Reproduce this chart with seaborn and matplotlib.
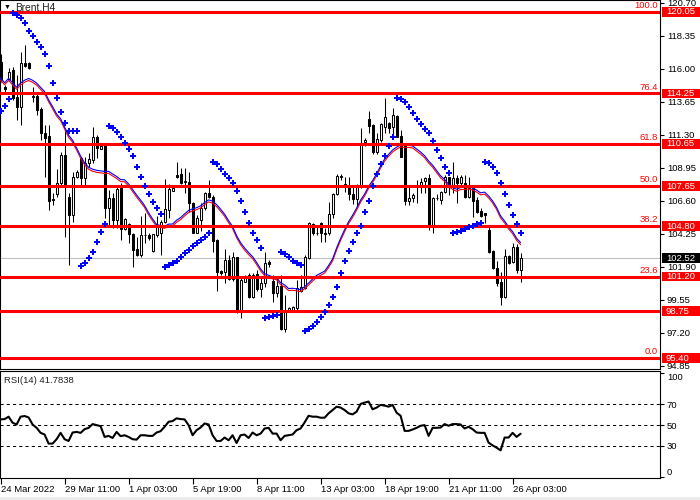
import numpy as np
import pandas as pd
import matplotlib
matplotlib.use("Agg")
import matplotlib.pyplot as plt
import matplotlib.transforms as mtransforms
from matplotlib.patches import Rectangle
import seaborn as sns

# Brent H4 candles (one value per bar)
opens = [116.50, 114.72, 115.25, 115.91, 114.01, 113.30, 116.39, 116.39, 114.06, 114.06,
         113.13, 111.40, 111.21, 106.65, 107.06, 107.84, 109.86, 106.89, 105.59, 108.31,
         109.62, 108.20, 109.31, 109.50, 111.16, 110.31, 110.57, 106.06, 106.77, 105.23,
         107.48, 104.56, 104.94, 104.23, 103.14, 102.74, 104.16, 104.16, 103.05, 104.16,
         104.28, 105.11, 105.94, 107.32, 108.44, 108.51, 107.96, 107.91, 106.47, 104.33,
         105.23, 106.06, 107.18, 106.84, 103.81, 101.62, 101.55, 102.38, 101.00, 102.57,
         98.77, 100.84, 101.31, 99.72, 101.38, 100.29, 100.72, 102.26, 100.91, 100.06,
         100.53, 97.44, 98.77, 98.82, 98.94, 100.20, 100.36, 102.50, 104.95, 104.28,
         104.99, 104.33, 104.28, 105.66, 107.08, 108.32, 107.79, 107.60, 107.08, 106.70,
         107.60, 110.81, 112.40, 112.00, 110.10, 110.93, 111.88, 112.11, 111.88, 112.64,
         111.21, 110.57, 106.61, 106.77, 107.60, 107.65, 108.03, 108.20, 104.87, 106.77,
         106.65, 107.25, 108.27, 107.60, 108.20, 107.84, 107.89, 106.89, 107.49, 106.65,
         105.90, 105.71, 104.52, 103.05, 101.79, 100.84, 99.77, 102.67, 102.26, 103.28,
         101.67]
highs = [117.05, 114.84, 116.03, 116.15, 115.56, 117.22, 117.69, 116.50, 114.72, 114.37,
         113.30, 112.00, 112.00, 107.13, 108.84, 110.10, 111.64, 107.13, 108.67, 108.79,
         109.74, 109.74, 109.98, 111.88, 111.28, 110.69, 110.57, 107.36, 107.13, 107.72,
         107.84, 105.35, 104.99, 104.33, 104.04, 105.52, 105.71, 104.28, 104.25, 105.52,
         105.23, 108.13, 107.79, 107.60, 109.36, 108.91, 108.91, 108.62, 106.54, 105.59,
         106.47, 107.25, 108.08, 107.01, 103.85, 101.67, 103.14, 102.74, 102.98, 102.62,
         101.08, 101.31, 101.43, 101.43, 101.67, 101.19, 102.98, 102.38, 101.31, 101.19,
         101.31, 99.89, 99.06, 99.11, 100.96, 101.31, 102.74, 105.11, 105.04, 104.87,
         105.11, 104.64, 106.54, 107.13, 108.48, 108.48, 108.32, 108.32, 107.60, 107.79,
         111.76, 111.05, 113.02, 112.05, 111.40, 112.16, 113.90, 112.23, 113.18, 112.70,
         111.64, 110.60, 107.60, 107.13, 108.08, 108.20, 108.32, 108.51, 106.89, 107.08,
         107.32, 108.44, 108.32, 109.38, 108.44, 108.44, 108.44, 108.32, 107.60, 106.89,
         106.06, 105.75, 104.87, 103.10, 102.31, 101.55, 103.14, 102.74, 103.57, 103.52,
         102.86]
lows = [115.08, 114.37, 115.20, 113.77, 112.35, 112.00, 116.15, 115.96, 113.66, 112.71,
        110.93, 108.31, 105.94, 106.30, 106.89, 107.72, 104.04, 102.02, 105.11, 108.20,
        107.72, 107.72, 109.03, 109.27, 109.62, 110.26, 105.35, 104.87, 104.64, 104.64,
        103.80, 104.52, 103.57, 101.90, 102.67, 102.62, 103.57, 103.81, 102.98, 104.04,
        102.74, 104.99, 105.35, 107.28, 108.20, 107.79, 107.13, 105.82, 104.28, 104.28,
        104.47, 105.94, 106.77, 102.98, 100.20, 101.31, 100.77, 100.96, 100.91, 98.58,
        98.23, 100.80, 99.65, 99.65, 100.20, 99.77, 100.48, 101.91, 99.41, 99.77,
        97.40, 97.28, 98.70, 98.77, 98.82, 100.13, 100.29, 102.43, 104.16, 104.16,
        103.69, 103.69, 104.16, 105.35, 107.01, 108.08, 107.25, 106.65, 106.37, 106.18,
        107.49, 110.50, 111.45, 109.93, 109.93, 110.81, 111.40, 111.45, 111.35, 111.12,
        109.70, 106.30, 106.30, 106.54, 106.42, 107.13, 107.18, 104.52, 104.33, 106.65,
        106.37, 107.18, 107.01, 107.13, 106.42, 107.60, 106.77, 106.77, 105.42, 105.71,
        105.47, 104.99, 102.86, 101.72, 100.53, 99.18, 99.65, 102.10, 102.19, 101.43,
        100.84]
closes = [115.20, 114.53, 115.79, 113.89, 113.30, 116.39, 116.22, 116.03, 114.01, 113.06,
          111.45, 111.04, 106.61, 106.70, 107.89, 109.86, 107.60, 105.59, 108.31, 108.67,
          108.20, 109.27, 109.55, 111.16, 110.33, 110.50, 106.06, 106.77, 105.23, 107.41,
          104.56, 105.28, 104.23, 103.09, 102.74, 104.16, 104.18, 103.92, 104.21, 104.87,
          105.11, 105.99, 107.41, 107.49, 108.32, 107.89, 107.98, 106.47, 104.33, 105.35,
          106.06, 107.18, 106.84, 103.76, 101.55, 101.43, 102.38, 101.00, 102.57, 98.77,
          100.96, 101.19, 99.72, 101.31, 100.29, 100.72, 102.14, 102.10, 100.01, 100.53,
          97.44, 98.77, 98.94, 99.06, 100.36, 100.44, 102.62, 104.99, 104.28, 104.30,
          104.28, 104.23, 105.66, 107.08, 108.36, 108.34, 107.60, 107.08, 106.70, 107.60,
          110.69, 110.93, 111.93, 110.10, 110.98, 112.07, 112.59, 111.76, 112.71, 111.17,
          109.74, 106.61, 106.77, 107.01, 107.62, 107.96, 108.25, 104.87, 106.77, 106.79,
          107.25, 108.27, 107.65, 108.20, 107.89, 108.32, 106.89, 107.49, 106.61, 105.82,
          105.52, 105.59, 102.98, 101.79, 100.77, 99.77, 102.67, 102.19, 103.28, 101.67,
          102.52]
sar = [113.00, 113.35, 113.83,
       119.96, 119.84, 119.60, 119.25, 118.68, 118.31, 117.88, 117.54, 117.04, 116.20,
       114.99, 113.90, 112.93, 112.12, 111.57, 111.57, 111.57,
       101.98, 102.15, 102.51, 102.93, 103.65, 104.36, 104.95,
       111.93, 111.77, 111.48, 111.13, 110.74, 110.27, 109.76, 108.99, 108.28, 107.66,
       107.07, 106.54, 106.07, 105.64,
       101.91, 102.03, 102.15, 102.32, 102.58, 102.86, 103.10, 103.38, 103.58, 103.81,
       104.05, 104.29,
       109.34, 109.20, 108.85, 108.49, 108.21, 107.85, 107.32, 106.61, 105.78, 105.04,
       104.33, 103.81, 103.22,
       98.23, 98.31, 98.38, 98.49,
       102.93, 102.81, 102.58, 102.34, 102.19, 102.03,
       97.33, 97.45, 97.71, 97.99, 98.31, 98.70, 99.16, 99.73, 100.44, 101.44, 102.31,
       103.01, 103.69, 104.29, 104.79, 105.78, 106.57, 107.66, 108.49, 109.20, 109.79,
       110.51, 111.13,
       113.90, 113.83, 113.66, 113.26, 112.83, 112.43, 112.05, 111.70, 111.41, 110.86,
       110.22, 109.63, 109.03, 108.60,
       104.33, 104.40, 104.47, 104.62, 104.72, 104.81, 104.93, 105.00,
       109.34, 109.27, 108.99, 108.56, 107.89, 107.07, 106.28, 105.57, 104.93, 104.33]
rsi = [55.5, 55.8, 58.1, 52.3, 50.6, 58.1, 58.7, 57.4, 50.6, 47.4,
       42.6, 41.0, 32.3, 32.3, 36.5, 42.6, 36.5, 34.8, 42.9, 43.5,
       42.6, 46.1, 47.4, 51.0, 50.0, 49.0, 38.7, 39.7, 37.7, 43.5,
       39.4, 40.3, 38.7, 36.5, 36.1, 40.3, 40.3, 39.7, 39.7, 42.9,
       44.2, 48.4, 53.2, 53.9, 56.5, 55.8, 55.5, 50.0, 40.3, 45.2,
       47.7, 51.6, 50.6, 40.3, 34.8, 34.8, 38.1, 35.5, 40.3, 32.9,
       40.3, 41.0, 37.7, 42.9, 40.3,
       41.9, 46.8, 47.4, 41.9, 41.9, 35.5, 39.7, 40.3, 41.0, 45.2,
       46.8, 52.6, 59.0, 58.1, 58.1, 57.1, 57.1, 61.3, 64.5, 67.7,
       66.8, 64.5, 61.3, 60.3, 62.9, 70.3, 71.6, 72.6, 65.2, 66.8,
       69.4, 68.7, 67.7, 69.4, 61.9, 59.0, 44.5, 44.5, 45.8, 47.4,
       49.4, 50.0, 39.7, 47.4, 47.4, 47.7, 51.0, 49.4, 51.0, 51.0,
       50.6, 46.8, 48.4, 46.1, 42.9, 42.6, 42.6, 33.2, 30.6, 28.4,
       25.8, 38.1, 38.1, 42.6, 38.7, 41.78]

levels = [120.05, 114.25, 110.65, 107.65, 104.80, 101.20, 98.75, 95.40]
fib_labels = ['100.0', '76.4', '61.8', '50.0', '38.2', '23.6', '', '0.0']
price_ticks = [94.85, 97.20, 99.55, 101.90, 104.25, 106.60, 108.95, 111.30, 113.65,
               116.00, 118.35, 120.70]
rsi_ticks = [0, 30, 50, 70, 100]
rsi_levels = [30, 50, 70]
date_pos = [0, 16, 32, 48, 64, 80, 96, 112, 128]
date_labels = ['24 Mar 2022', '29 Mar 11:00', '1 Apr 03:00', '5 Apr 19:00', '8 Apr 11:00',
               '13 Apr 03:00', '18 Apr 19:00', '21 Apr 11:00', '26 Apr 03:00']
last_price = 102.52
rsi_text = 'RSI(14) 41.7838'

sns.set_theme(style="white")
plt.rcParams['font.family'] = ['Liberation Sans', 'DejaVu Sans']
FS = 6.8

df = pd.DataFrame({'bar': np.arange(len(closes)), 'open': opens, 'high': highs,
                   'low': lows, 'close': closes, 'sar': sar, 'rsi': rsi})
df['ma'] = df['close'].rolling(14, min_periods=1).mean()

fig = plt.figure(figsize=(7, 5), dpi=100)
fig.patch.set_facecolor('white')
ax = fig.add_axes([0, 1 - 369 / 500, 660 / 700, 369 / 500])
ax2 = fig.add_axes([0, 1 - 477.7 / 500, 660 / 700, 106.7 / 500])
fig.patches.append(Rectangle((0, 0), 1, 3 / 500, transform=fig.transFigure,
                             facecolor='#ececec', edgecolor='none'))

xlim = (-0.15, -0.15 + 660 / 4)
ylim = (94.62, 120.90)
box_h = 9.5 * (ylim[1] - ylim[0]) / 369   # label box height, ~9.5 px

# --- price panel ---
ax.axhline(last_price, color='#c0c0c0', lw=0.8, zorder=1)
up = df['close'] >= df['open']
ax.vlines(df['bar'], df['low'], df['high'], color='black', lw=0.75, zorder=2)
ax.bar(df['bar'], (df['close'] - df['open']).abs(),
       bottom=df[['open', 'close']].min(axis=1), width=0.5,
       color=np.where(up, 'white', 'black'), edgecolor='black', linewidth=0.75, zorder=3)

sns.lineplot(x=df['bar'], y=df['ma'], ax=ax, color='#ff0000', lw=0.8, zorder=3.5)
blue_tr = mtransforms.offset_copy(ax.transData, fig=fig, x=0, y=2, units='dots')
sns.lineplot(x=df['bar'], y=df['ma'], ax=ax, color='#0000ff', lw=0.8, zorder=3.5,
             transform=blue_tr)

for lv in levels:
    ax.axhline(lv, color='#ff0000', lw=2.2, zorder=4)

sns.scatterplot(x=df['bar'], y=df['sar'], ax=ax, color='#0000ff', marker='P', s=20,
                linewidth=0, zorder=5)

ax.set_xlim(*xlim)
ax.set_ylim(*ylim)
ax.set_xticks([])
ax.set_xlabel('')
ax.set_ylabel('')
ax.yaxis.tick_right()
ax.set_yticks(price_ticks)
ax.set_yticklabels([f'{t:.2f}' for t in price_ticks])
ax.tick_params(axis='y', direction='out', length=3, width=0.8, pad=2,
               labelsize=FS, colors='black', right=True, left=False)
for s in ax.spines.values():
    s.set_color('black')
    s.set_linewidth(0.8)

trans = mtransforms.blended_transform_factory(ax.transAxes, ax.transData)
for lv, lab in zip(levels, fib_labels):
    ax.add_patch(Rectangle((1.003, lv - box_h / 2), 0.07, box_h, transform=trans,
                           facecolor='#ff0000', edgecolor='none', clip_on=False, zorder=6))
    ax.text(1.009, lv, f'{lv:.2f}', transform=trans, ha='left', va='center',
            color='white', fontsize=FS, zorder=7, clip_on=False)
    if lab:
        ax.annotate(lab, xy=(0.997, lv), xycoords=trans, xytext=(0, 1.2),
                    textcoords='offset points', ha='right', va='bottom',
                    color='#ff0000', fontsize=FS, zorder=6)
ax.add_patch(Rectangle((1.003, last_price - box_h / 2), 0.07, box_h, transform=trans,
                       facecolor='black', edgecolor='none', clip_on=False, zorder=8))
ax.text(1.009, last_price, f'{last_price:.2f}', transform=trans, ha='left', va='center',
        color='white', fontsize=FS, zorder=9, clip_on=False)

ax.text(0.0106, 0.981, '\u25bc', transform=ax.transAxes, ha='center', va='center',
        fontsize=5, color='black')
ax.text(0.0227, 0.981, 'Brent,H4', transform=ax.transAxes, ha='left', va='center',
        fontsize=FS + 0.5, color='#202020')

# --- RSI panel ---
for lv in rsi_levels:
    ax2.axhline(lv, color='black', lw=0.75, ls=(0, (3, 3)), zorder=1)
sns.lineplot(x=df['bar'], y=df['rsi'], ax=ax2, color='black', lw=1.5, zorder=3)
ax2.set_xlim(*xlim)
ax2.set_ylim(-0.4, 101.9)
ax2.set_xlabel('')
ax2.set_ylabel('')
ax2.yaxis.tick_right()
ax2.set_yticks(rsi_ticks)
ax2.set_yticklabels([str(t) for t in rsi_ticks])
ax2.tick_params(axis='y', direction='out', length=3, width=0.8, pad=2,
                labelsize=FS, colors='black', right=True, left=False)
for t, lab in zip(rsi_ticks, ax2.get_yticklabels()):
    if t == 100:
        lab.set_va('top')
    elif t == 0:
        lab.set_va('bottom')
ax2.set_xticks(date_pos)
ax2.set_xticklabels(date_labels, ha='left')
ax2.tick_params(axis='x', direction='out', length=4.5, width=0.8, pad=0.5,
                labelsize=FS, colors='black', bottom=True)
for s in ax2.spines.values():
    s.set_color('black')
    s.set_linewidth(0.8)
ax2.text(0.006, 0.91, rsi_text, transform=ax2.transAxes, ha='left', va='center',
         fontsize=FS, color='#202020')

fig.savefig('out.png', dpi=100)
